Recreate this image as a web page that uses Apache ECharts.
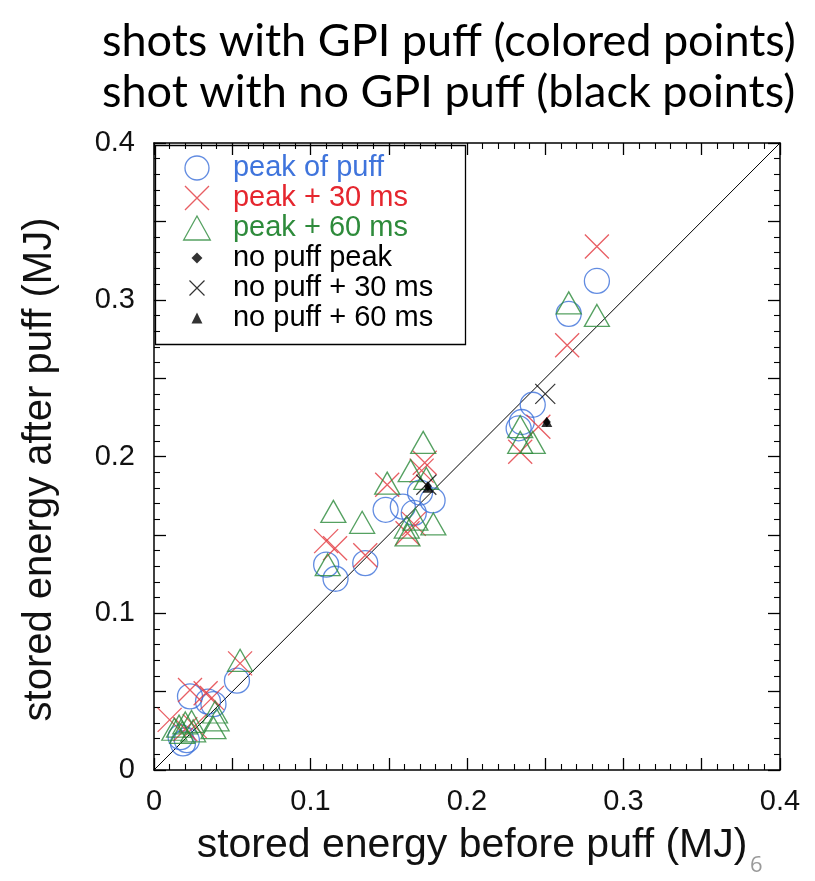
<!DOCTYPE html>
<html><head><meta charset="utf-8">
<script src="https://cdn.jsdelivr.net/npm/echarts@6/dist/echarts.min.js"></script>
<style>html,body{margin:0;padding:0;background:#fff}#c{width:815px;height:881px}</style>
</head><body><div id="c"></div>
<script>
// ---- data (MJ) ----
const titleLines = ['shots with GPI puff (colored points)', 'shot with no GPI puff (black points)'];
const xTitle = 'stored energy before puff (MJ)';
const yTitle = 'stored energy after puff (MJ)';
const slideNumber = '6';
const seriesNames = ['peak of puff', 'peak + 30 ms', 'peak + 60 ms', 'no puff peak', 'no puff + 30 ms', 'no puff + 60 ms'];
const axisTickLabels = ['0', '0.1', '0.2', '0.3', '0.4'];

const peakOfPuff = [
  [0.283,0.312],[0.265,0.291],[0.242,0.233],[0.235,0.222],[0.233,0.218],
  [0.178,0.172],[0.170,0.177],[0.166,0.164],[0.159,0.168],[0.148,0.166],
  [0.135,0.132],[0.110,0.131],[0.116,0.122],[0.053,0.057],[0.023,0.047],
  [0.0345,0.0436],[0.038,0.042],[0.017,0.021],[0.0185,0.017],[0.021,0.019]
];
const peakPlus30 = [
  [0.283,0.334],[0.264,0.271],[0.2456,0.219],[0.234,0.203],[0.173,0.196],
  [0.171,0.191],[0.166,0.157],[0.162,0.151],[0.149,0.182],[0.110,0.146],
  [0.1157,0.1415],[0.135,0.137],[0.055,0.068],[0.023,0.051],[0.033,0.049],
  [0.037,0.046],[0.010,0.032],[0.020,0.026],[0.026,0.028]
];
const peakPlus60 = [
  [0.283,0.290],[0.265,0.298],[0.234,0.219],[0.234,0.209],[0.242,0.209],
  [0.172,0.209],[0.164,0.191],[0.149,0.183],[0.174,0.186],[0.1615,0.155],
  [0.162,0.150],[0.1785,0.157],[0.167,0.160],[0.1146,0.165],[0.133,0.158],
  [0.111,0.131],[0.055,0.070],[0.039,0.037],[0.040,0.032],[0.038,0.027],
  [0.016,0.028],[0.020,0.030],[0.024,0.031],[0.013,0.026],[0.018,0.024],[0.025,0.025]
];
const noPuffPeak = [[0.175,0.181],[0.251,0.222]];
const noPuffPlus30 = [[0.174,0.182],[0.250,0.240]];
const noPuffPlus60 = [[0.175,0.180],[0.251,0.222]];
const unityLine = [[0,0],[0.4,0.4]];

// ---- styles ----
const BLUE = '#3b6fd9', RED = '#e2363c', GREEN = '#2b8a39';
const X_PATH = 'path://M0,0L10,10M10,0L0,10';
const TRI_PATH = 'path://M5,0L10,9L0,9Z';
const X_SMALL = 'path://M-3,-3M13,13M0,0L10,10M10,0L0,10';
const DIAMOND_SMALL = 'path://M-6,-6M16,16M5,0L10,5L5,10L0,5Z';
const TRI_SMALL = 'path://M-6,-6M16,16M5,0L10,10L0,10Z';
const FONT = "'Liberation Sans', Arial, Helvetica, sans-serif";

function tickFmt(v) {
  const r = Math.round(v * 100);
  if (r % 10 !== 0) return '';
  return axisTickLabels[r / 10] || '';
}

const axisCommon = {
  type: 'value', min: 0, max: 0.4, interval: 0.05,
  axisLine: { show: true, onZero: false, lineStyle: { color: '#000', width: 1.5 } },
  axisTick: { show: true, inside: true, length: 12, lineStyle: { color: '#000', width: 1.3 } },
  minorTick: { show: true, splitNumber: 5, length: 6, lineStyle: { color: '#000', width: 1.1 } },
  splitLine: { show: false }
};

const chart = echarts.init(document.getElementById('c'), null, { renderer: 'canvas' });
chart.setOption({
  animation: false,
  backgroundColor: '#fff',
  title: {
    text: titleLines.join('\n'),
    left: 102, top: 16, padding: 0,
    textStyle: { fontFamily: "Lato, 'Open Sans', sans-serif", fontSize: 45, fontWeight: 'normal', color: '#000', lineHeight: 51 }
  },
  grid: { left: 154, top: 143, width: 626, height: 627, containLabel: false },
  xAxis: [
    Object.assign({}, axisCommon, {
      position: 'bottom',
      axisLabel: { formatter: tickFmt, fontFamily: FONT, fontSize: 29, color: '#111', margin: 17, showMinLabel: true, showMaxLabel: true },
      name: xTitle, nameLocation: 'middle', nameGap: 55,
      nameTextStyle: { fontFamily: FONT, fontSize: 41, color: '#111', padding: [0, 0, 0, 10] }
    }),
    Object.assign({}, axisCommon, { position: 'top', axisLabel: { show: false } })
  ],
  yAxis: [
    Object.assign({}, axisCommon, {
      position: 'left',
      axisLabel: { formatter: tickFmt, fontFamily: FONT, fontSize: 29, color: '#111', margin: 19, showMinLabel: true, showMaxLabel: true },
      name: yTitle, nameLocation: 'middle', nameGap: 94,
      nameTextStyle: { fontFamily: FONT, fontSize: 40, color: '#111', padding: [0, 26, 0, 0] }
    }),
    Object.assign({}, axisCommon, { position: 'right', axisLabel: { show: false } })
  ],
  legend: {
    left: 183, top: 153, orient: 'vertical', padding: 0,
    itemWidth: 62, itemHeight: 24, itemGap: 0,
    symbolKeepAspect: true, selectedMode: false,
    textStyle: { fontFamily: FONT, fontSize: 29, lineHeight: 30, color: '#000' },
    data: [
      { name: seriesNames[0], icon: 'circle', itemStyle: { color: 'rgba(0,0,0,0)', borderColor: BLUE, borderWidth: 1.3 }, textStyle: { color: '#3f74dc' } },
      { name: seriesNames[1], icon: X_PATH, itemStyle: { color: 'rgba(0,0,0,0)', borderColor: RED, borderWidth: 1.3 }, textStyle: { color: '#e5262e' } },
      { name: seriesNames[2], icon: TRI_PATH, itemStyle: { color: 'rgba(0,0,0,0)', borderColor: GREEN, borderWidth: 1.3 }, textStyle: { color: '#2e8b3b' } },
      { name: seriesNames[3], icon: DIAMOND_SMALL, itemStyle: { color: '#000', borderWidth: 0 }, textStyle: { color: '#000' } },
      { name: seriesNames[4], icon: X_SMALL, itemStyle: { color: 'rgba(0,0,0,0)', borderColor: '#000', borderWidth: 1.2 }, textStyle: { color: '#000' } },
      { name: seriesNames[5], icon: TRI_SMALL, itemStyle: { color: '#000', borderWidth: 0 }, textStyle: { color: '#000' } }
    ]
  },
  graphic: [
    { type: 'rect', left: 153, top: 143, z: 100, silent: true,
      shape: { width: 310, height: 199 },
      style: { fill: 'none', stroke: '#000', lineWidth: 1.3 } },
    { type: 'text', left: 750, top: 855, silent: true,
      style: { text: slideNumber, fill: '#9a9a9a', font: "22px 'Open Sans', sans-serif" } }
  ],
  series: [
    { type: 'line', data: unityLine, symbol: 'none', silent: true, z: 1,
      lineStyle: { color: '#000', width: 1 } },
    { name: seriesNames[0], type: 'scatter', data: peakOfPuff, symbol: 'circle', symbolSize: 25,
      itemStyle: { color: 'rgba(0,0,0,0)', borderColor: BLUE, borderWidth: 1.3 } },
    { name: seriesNames[1], type: 'scatter', data: peakPlus30, symbol: X_PATH, symbolSize: 24,
      itemStyle: { color: 'rgba(0,0,0,0)', borderColor: RED, borderWidth: 1.3 } },
    { name: seriesNames[2], type: 'scatter', data: peakPlus60, symbol: TRI_PATH, symbolSize: [25, 22],
      itemStyle: { color: 'rgba(0,0,0,0)', borderColor: GREEN, borderWidth: 1.3 } },
    { name: seriesNames[3], type: 'scatter', data: noPuffPeak, symbol: 'diamond', symbolSize: [8, 10],
      itemStyle: { color: '#000' } },
    { name: seriesNames[4], type: 'scatter', data: noPuffPlus30, symbol: X_PATH, symbolSize: 20,
      itemStyle: { color: 'rgba(0,0,0,0)', borderColor: '#000', borderWidth: 1.2 } },
    { name: seriesNames[5], type: 'scatter', data: noPuffPlus60, symbol: 'triangle', symbolSize: [11, 10],
      itemStyle: { color: '#000' } }
  ]
});
</script>
</body></html>
